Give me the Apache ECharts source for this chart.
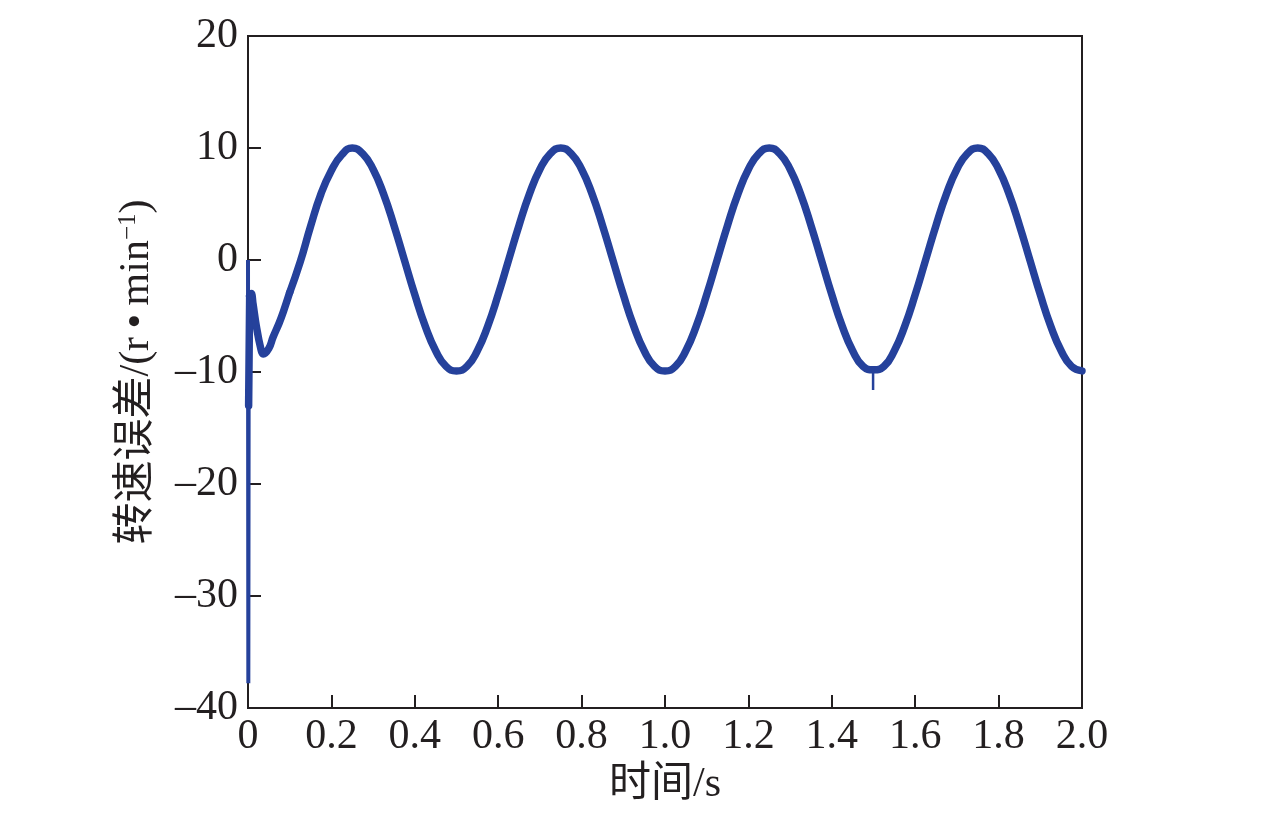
<!DOCTYPE html>
<html>
<head>
<meta charset="utf-8">
<script src="https://cdn.jsdelivr.net/npm/echarts@6/dist/echarts.min.js"></script>
<style>
html,body{margin:0;padding:0;background:#fff;}
#c{width:1276px;height:814px;}
</style>
</head>
<body>
<div id="c"></div>
<script>
// Start transient (s, r/min)
const startTimes = [0.0, 0.0008, 0.0015, 0.004, 0.008, 0.012, 0.02, 0.03, 0.037, 0.05, 0.06, 0.075, 0.085, 0.1];
const startValues = [0, -37.8, -13, -3.2, -3.0, -3.9, -5.9, -7.8, -8.4, -7.9, -6.9, -5.6, -4.6, -2.9];
// Main periodic response
const times = [0.1, 0.125,
  0.15, 0.175, 0.2, 0.225, 0.25, 0.275, 0.3, 0.325, 0.35, 0.375, 0.4, 0.425, 0.45, 0.475, 0.5,
  0.525, 0.55, 0.575, 0.6, 0.625, 0.65, 0.675, 0.7, 0.725, 0.75, 0.775, 0.8, 0.825, 0.85, 0.875, 0.9, 0.925, 0.95, 0.975, 1.0,
  1.025, 1.05, 1.075, 1.1, 1.125, 1.15, 1.175, 1.2, 1.225, 1.25, 1.275, 1.3, 1.325, 1.35, 1.375, 1.4, 1.425, 1.45, 1.475, 1.5,
  1.525, 1.55, 1.575, 1.6, 1.625, 1.65, 1.675, 1.7, 1.725, 1.75, 1.775, 1.8, 1.825, 1.85, 1.875, 1.9, 1.925, 1.95, 1.975, 2.0];
const values = [-2.9, -0.2,
  3.0, 5.9, 8.0, 9.4, 10.0, 9.5, 8.1, 5.9, 3.1, 0.0, -3.1, -5.9, -8.1, -9.5, -9.9,
  -9.5, -8.1, -5.9, -3.1, 0.0, 3.1, 5.9, 8.1, 9.5, 10.0, 9.5, 8.1, 5.9, 3.1, 0.0, -3.1, -5.9, -8.1, -9.5, -9.9,
  -9.5, -8.1, -5.9, -3.1, 0.0, 3.1, 5.9, 8.1, 9.5, 10.0, 9.5, 8.1, 5.9, 3.1, 0.0, -3.1, -5.9, -8.1, -9.5, -9.8,
  -9.5, -8.1, -5.9, -3.1, 0.0, 3.1, 5.9, 8.1, 9.5, 10.0, 9.5, 8.1, 5.9, 3.1, 0.0, -3.1, -5.9, -8.1, -9.5, -9.9];
// Isolated spike near 1.5 s
const spikeTimes = [1.499, 1.499];
const spikeValues = [-9.5, -11.6];

const xTicks = [0, 0.2, 0.4, 0.6, 0.8, 1.0, 1.2, 1.4, 1.6, 1.8, 2.0];
const yTicks = [-40, -30, -20, -10, 0, 10, 20];

const zip = (a, b) => a.map((t, i) => [t, b[i]]);
const color = '#25419b';
const font = '"Liberation Serif", "Times New Roman", "Noto Sans CJK SC", serif';
const ink = '#231f20';

const chart = echarts.init(document.getElementById('c'), null, {renderer: 'canvas'});
chart.setOption({
  animation: false,
  backgroundColor: '#fff',
  grid: {left: 248, right: 194, top: 36, bottom: 106, show: true, borderColor: ink, borderWidth: 2, backgroundColor: 'transparent'},
  xAxis: {
    type: 'value', min: xTicks[0], max: xTicks[xTicks.length - 1], interval: 0.2,
    name: '时间/s', nameLocation: 'middle', nameGap: 56,
    nameTextStyle: {fontFamily: font, fontSize: 42, color: ink},
    axisLine: {show: true, onZero: false, lineStyle: {color: ink, width: 2}},
    axisTick: {show: true, inside: true, length: 13, lineStyle: {color: ink, width: 2}},
    axisLabel: {fontFamily: font, fontSize: 42, color: ink, margin: 8,
      formatter: v => v === 0 ? '0' : v.toFixed(1)},
    splitLine: {show: false}
  },
  yAxis: {
    type: 'value', min: yTicks[0], max: yTicks[yTicks.length - 1], interval: 10,
    name: '转速误差/(r\u2009\u2022\u2009min{sup|\u22121})', nameLocation: 'middle', nameGap: 90, nameRotate: 90,
    nameTextStyle: {fontFamily: font, fontSize: 42, color: ink,
      rich: {sup: {fontFamily: font, fontSize: 25, color: ink, verticalAlign: 'top', lineHeight: 42}}},
    axisLine: {show: true, onZero: false, lineStyle: {color: ink, width: 2}},
    axisTick: {show: true, inside: true, length: 13, lineStyle: {color: ink, width: 2}},
    axisLabel: {fontFamily: font, fontSize: 42, color: ink, margin: 10,
      formatter: v => v < 0 ? '\u2013' + Math.abs(v) : String(v)},
    splitLine: {show: false}
  },
  series: [
    {type: 'line', data: zip(startTimes.slice(0, 3), startValues.slice(0, 3)), showSymbol: false, symbol: 'none',
      lineStyle: {color: color, width: 4}, clip: true},
    {type: 'line', data: zip(startTimes.slice(2, 4), startValues.slice(2, 4)), showSymbol: false, symbol: 'none',
      lineStyle: {color: color, width: 7.5, join: 'round', cap: 'round'}, clip: true},
    {type: 'line', data: zip(startTimes.slice(3), startValues.slice(3)), showSymbol: false, symbol: 'none', smooth: 0.4,
      lineStyle: {color: color, width: 7.5, join: 'round', cap: 'round'}, clip: true},
    {type: 'line', data: zip(times, values), showSymbol: false, symbol: 'none', smooth: 0.5,
      lineStyle: {color: color, width: 7.5, join: 'round', cap: 'round'}, clip: true},
    {type: 'line', data: zip(spikeTimes, spikeValues), showSymbol: false, symbol: 'none',
      lineStyle: {color: color, width: 2.5}, clip: true}
  ]
});
</script>
</body>
</html>
